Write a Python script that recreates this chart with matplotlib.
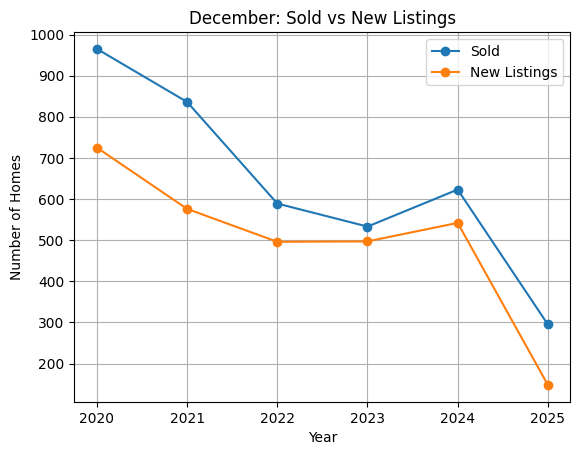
import matplotlib
matplotlib.use("Agg")
import matplotlib.pyplot as plt

# ===== 数据 =====
years = [2020, 2021, 2022, 2023, 2024, 2025]
sold = [965, 836, 589, 533, 623, 295]
new_listings = [725, 576, 496, 497, 542, 148]

# ===== 绘图 =====
fig = plt.figure(figsize=(6.4, 4.8), dpi=100)
plt.plot(years, sold, marker="o", label="Sold")
plt.plot(years, new_listings, marker="o", label="New Listings")

plt.title("December: Sold vs New Listings")
plt.xlabel("Year")
plt.ylabel("Number of Homes")
plt.xticks(years)
plt.grid(True)
plt.legend()
plt.savefig("out.png", dpi=100, bbox_inches="tight")
